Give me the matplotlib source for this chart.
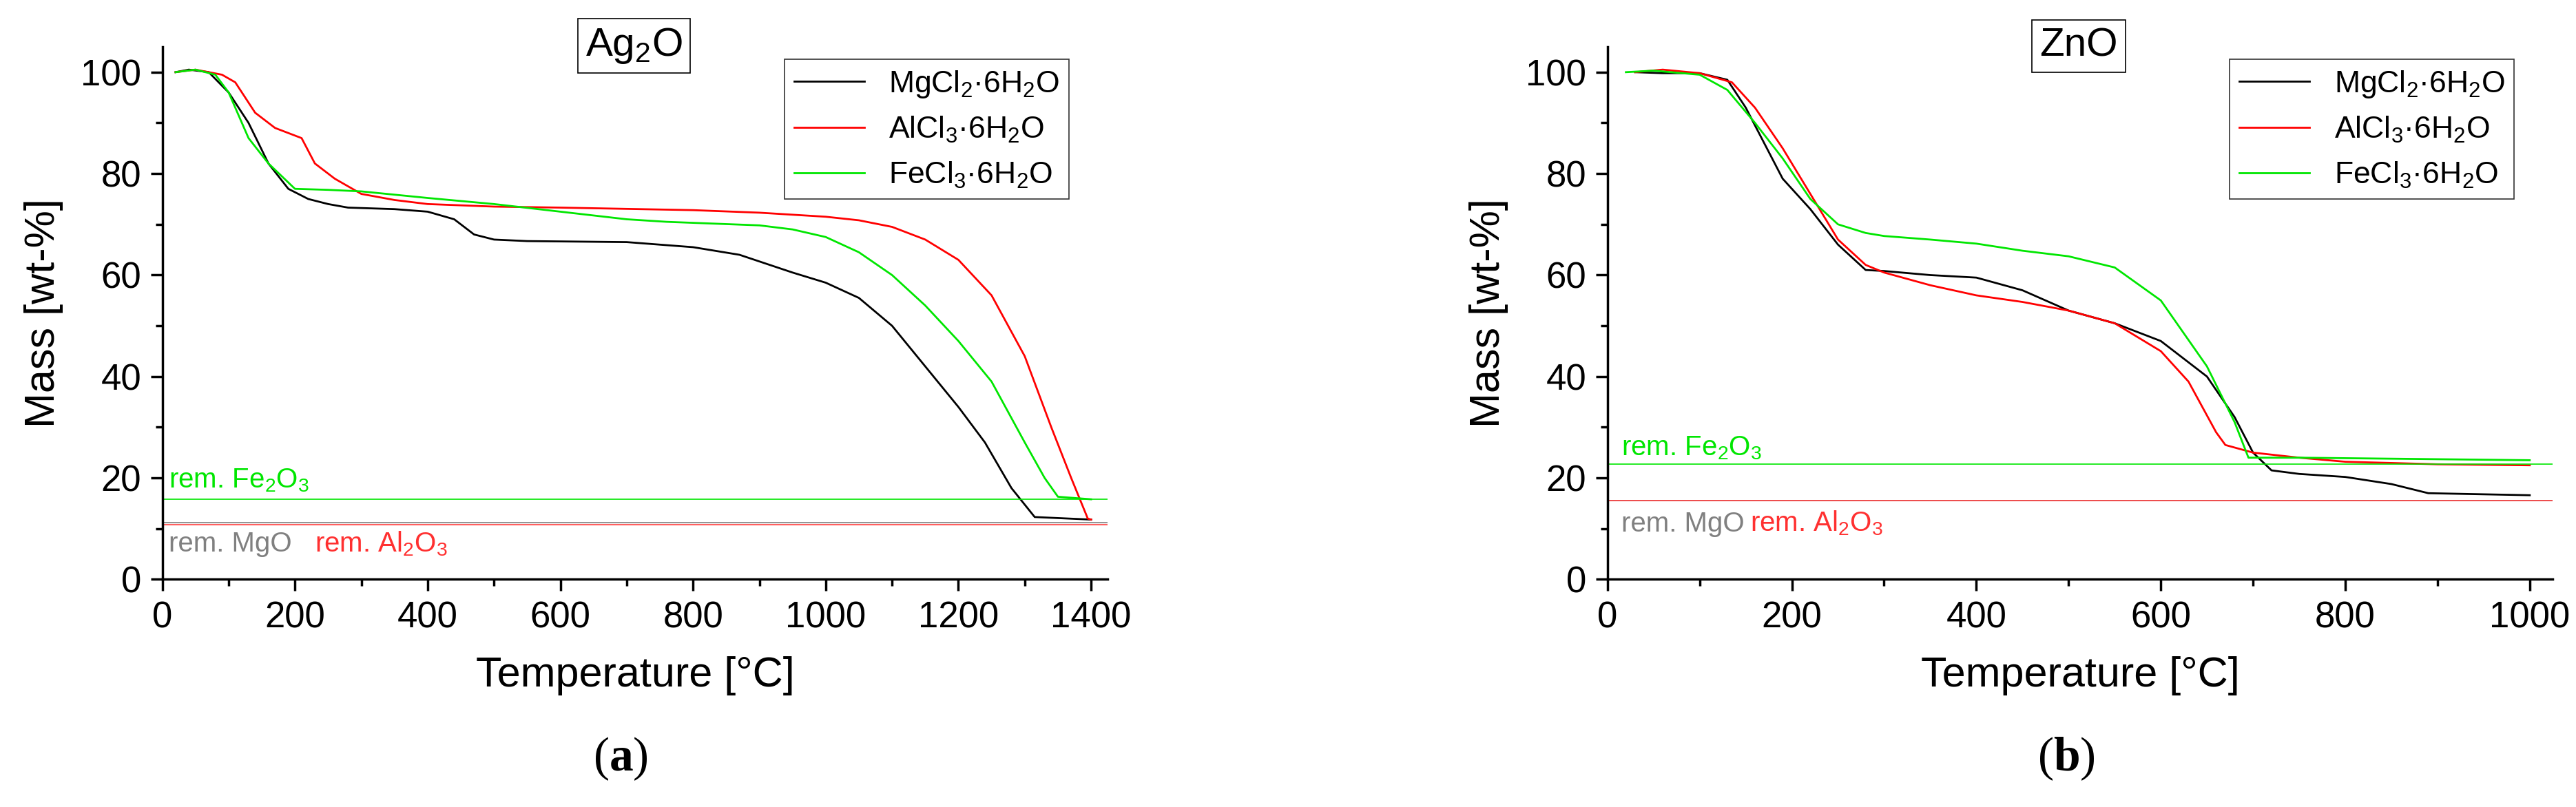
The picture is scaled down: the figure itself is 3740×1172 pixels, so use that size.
import matplotlib
matplotlib.use("Agg")
import matplotlib.pyplot as plt
from matplotlib.ticker import MultipleLocator

plt.rcParams['font.family'] = ['Liberation Sans Narrow', 'Liberation Sans', 'DejaVu Sans']
plt.rcParams['mathtext.default'] = 'regular'
plt.rcParams['mathtext.fontset'] = 'custom'
plt.rcParams['mathtext.bf'] = 'Liberation Serif:bold'

# --- (a) Ag2O ---
a_mg_t = [20, 40, 70, 100, 130, 160, 190, 220, 250, 280, 350, 400, 440, 470, 500, 550, 700, 800, 870, 950, 1000, 1050, 1100, 1150, 1200, 1240, 1280, 1315, 1400]
a_mg_m = [100, 100.5, 100, 96, 90, 82, 77, 75, 74, 73.3, 73, 72.5, 71, 68, 67, 66.7, 66.5, 65.5, 64, 60.5, 58.5, 55.5, 50, 42, 34, 27, 18, 12.3, 11.8]
a_al_t = [20, 50, 90, 110, 140, 170, 210, 230, 260, 300, 350, 400, 500, 600, 800, 900, 1000, 1050, 1100, 1150, 1200, 1250, 1300, 1340, 1370, 1395, 1400]
a_al_m = [100, 100.5, 99.5, 98, 92, 89, 87, 82, 79, 76, 74.8, 74, 73.5, 73.3, 72.8, 72.3, 71.5, 70.8, 69.5, 67, 63, 56, 44, 30, 20, 12, 11.8]
a_fe_t = [20, 50, 80, 100, 130, 160, 200, 250, 300, 400, 500, 600, 700, 760, 900, 950, 1000, 1050, 1100, 1150, 1200, 1250, 1300, 1330, 1350, 1400]
a_fe_m = [100, 100.5, 99.5, 96, 87, 82, 77, 76.8, 76.5, 75.2, 74, 72.5, 71, 70.5, 69.8, 69, 67.5, 64.5, 60, 54, 47, 39, 27, 20, 16.3, 15.8]
a_rem = {'Fe': 15.8, 'Mg': 11.2, 'Al': 10.8}

# --- (b) ZnO ---
b_mg_t = [30, 60, 100, 130, 150, 170, 190, 220, 250, 280, 300, 350, 400, 450, 500, 550, 600, 650, 680, 700, 720, 750, 800, 850, 890, 1000]
b_mg_m = [100, 99.8, 99.8, 98.5, 93, 86, 79, 73, 66, 61, 60.8, 60, 59.5, 57, 53, 50.5, 47, 40, 32, 25, 21.5, 20.8, 20.2, 18.8, 17, 16.6]
b_al_t = [30, 60, 100, 135, 160, 190, 220, 250, 280, 300, 350, 400, 450, 500, 550, 600, 630, 660, 670, 700, 750, 800, 900, 1000]
b_al_m = [100, 100.5, 99.8, 98, 93, 85, 76, 67, 62, 60.5, 58, 56, 54.7, 53, 50.5, 45, 39, 29, 26.5, 25, 24, 23.2, 22.7, 22.5]
b_fe_t = [20, 50, 100, 130, 160, 190, 220, 250, 280, 300, 350, 400, 450, 500, 550, 600, 650, 680, 695, 750, 900, 1000]
b_fe_m = [100, 100.3, 99.5, 96.5, 90, 83, 75, 70, 68.3, 67.7, 67, 66.2, 64.8, 63.7, 61.5, 55, 42, 31, 24, 24, 23.7, 23.5]
b_rem = {'Fe': 22.7, 'Mg': 15.6, 'Al': 15.6}

labels = [r'MgCl$_2$·6H$_2$O', r'AlCl$_3$·6H$_2$O', r'FeCl$_3$·6H$_2$O']
colors = ['black', '#ff0000', '#00e600']

fig = plt.figure(figsize=(37.4, 11.72), dpi=100)
ax1 = fig.add_axes([0.063, 0.282, 0.367, 0.66])
ax2 = fig.add_axes([0.624, 0.282, 0.367, 0.66])


def disegna(ax, series, rem, xmax, xstep, txt_pos, titolo, tx, lettera):
    for (t, m), lab, c in zip(series, labels, colors):
        ax.plot(t, m, color=c, lw=2, label=lab)
    ax.axhline(rem['Fe'], color='#00e600', lw=1.2)
    ax.axhline(rem['Mg'], color='grey', lw=1.2)
    ax.axhline(rem['Al'], color='#ff4040', lw=1.2)
    (fx, fy), (mx, my), (alx, aly) = txt_pos
    ax.text(fx, fy, r'rem. Fe$_2$O$_3$', color='#00e600', fontsize=29)
    ax.text(mx, my, 'rem. MgO', color='grey', fontsize=29)
    ax.text(alx, aly, r'rem. Al$_2$O$_3$', color='#ff3030', fontsize=29)
    ax.set_xlim(0, xmax)
    ax.set_ylim(0, 105)
    ax.xaxis.set_major_locator(MultipleLocator(xstep))
    ax.xaxis.set_minor_locator(MultipleLocator(xstep / 2))
    ax.yaxis.set_major_locator(MultipleLocator(20))
    ax.yaxis.set_minor_locator(MultipleLocator(10))
    ax.tick_params(which='both', direction='out', width=2.5, labelsize=38)
    ax.tick_params(which='major', length=12, pad=10)
    ax.tick_params(which='minor', length=7)
    for s in ['top', 'right']:
        ax.spines[s].set_visible(False)
    for s in ['left', 'bottom']:
        ax.spines[s].set_linewidth(2.5)
    ax.set_xlabel('Temperature [°C]', fontsize=44, family=['Liberation Sans', 'DejaVu Sans'], labelpad=22)
    ax.set_ylabel('Mass [wt-%]', fontsize=44, family=['Liberation Sans', 'DejaVu Sans'], labelpad=18)
    leg = ax.legend(loc='upper right', bbox_to_anchor=(0.975, 1.005), fontsize=32,
                    fancybox=False, edgecolor='black', handlelength=2.3, borderpad=0.3)
    leg.get_frame().set_linewidth(1.2)
    fig.text(tx, 0.943, titolo, fontsize=42, ha='center', va='center',
             bbox=dict(facecolor='white', edgecolor='black', lw=1.2, pad=8))
    fig.text(tx - 0.005, 0.06, lettera, fontsize=50, ha='center', va='center',
             family=['Liberation Serif', 'DejaVu Serif'])


disegna(ax1, [(a_mg_t, a_mg_m), (a_al_t, a_al_m), (a_fe_t, a_fe_m)], a_rem, 1425, 200,
        [(10, 18), (10, 5.5), (230, 5.5)], r'Ag$_2$O', 0.246, r'($\mathbf{a}$)')
disegna(ax2, [(b_mg_t, b_mg_m), (b_al_t, b_al_m), (b_fe_t, b_fe_m)], b_rem, 1025, 200,
        [(15, 24.5), (15, 9.5), (155, 9.5)], 'ZnO', 0.807, r'($\mathbf{b}$)')

fig.savefig('out.png', dpi=100)
